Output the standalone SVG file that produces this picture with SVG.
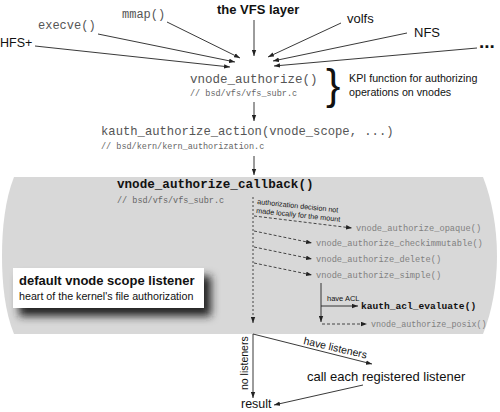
<svg xmlns="http://www.w3.org/2000/svg" width="500" height="412" viewBox="0 0 500 412">
<style>
.sans{font-family:"Liberation Sans",Arial,sans-serif;fill:#111}
.mono{font-family:"Liberation Mono","Courier New",monospace;fill:#555}
.cmt{font-family:"Liberation Mono","Courier New",monospace;font-size:8.5px;fill:#666}
.sub{font-family:"Liberation Mono","Courier New",monospace;font-size:8.7px;fill:#808080}
.ln{stroke:#222;stroke-width:0.9;fill:none}
.dot{stroke:#333;stroke-width:0.9;fill:none;stroke-dasharray:2,2}
.dash{stroke:#333;stroke-width:0.9;fill:none;stroke-dasharray:3,2}
</style>
<defs>
<marker id="ah" markerUnits="userSpaceOnUse" markerWidth="7" markerHeight="5" refX="6" refY="2.5" orient="auto">
<path d="M0,0.3 L6,2.5 L0,4.7 z" fill="#222"/>
</marker>
<filter id="blur" x="-20%" y="-40%" width="140%" height="180%">
<feGaussianBlur stdDeviation="4"/>
</filter>
</defs>
<rect width="500" height="412" fill="#fff"/>

<g id="listener-region">
<path d="M14,177 H483 C492,200 497,228 497,256 C497,284 492,312 483,334 H14 C5,312 2,284 2,256 C2,228 5,200 14,177 Z" fill="#d8d8d8"/>
</g>

<g id="vfs-layer"><text class="sans" x="217" y="14" font-size="13" font-weight="bold">the VFS layer</text></g>
<g id="mmap"><text class="mono" x="122" y="18" font-size="12">mmap()</text></g>
<g id="execve"><text class="mono" x="38" y="29" font-size="12">execve()</text></g>
<g id="hfs"><text class="sans" x="0" y="47" font-size="12.5">HFS+</text></g>
<g id="volfs"><text class="sans" x="347" y="23" font-size="13">volfs</text></g>
<g id="nfs"><text class="sans" x="414" y="37" font-size="13">NFS</text></g>
<g id="more"><text class="sans" x="479" y="48" font-size="19" font-weight="bold">...</text></g>

<g id="vnode-authorize">
<text class="mono" x="190" y="83" font-size="12.5">vnode_authorize()</text>
<text class="cmt" x="190" y="96">// bsd/vfs/vfs_subr.c</text>
</g>
<g id="kpi-note">
<text class="sans" x="326" y="99" font-size="43">}</text>
<text class="sans" x="349" y="82" font-size="10.7">KPI function for authorizing</text>
<text class="sans" x="349" y="96" font-size="10.7">operations on vnodes</text>
</g>

<g id="kauth-action">
<text class="mono" x="101" y="135" font-size="12.2">kauth_authorize_action(vnode_scope, ...)</text>
<text class="cmt" x="101" y="149">// bsd/kern/kern_authorization.c</text>
</g>

<g id="callback">
<text class="mono" x="117" y="188" font-size="12.6" font-weight="bold" style="fill:#111">vnode_authorize_callback()</text>
<text class="cmt" x="117" y="203">// bsd/vfs/vfs_subr.c</text>
</g>

<g id="decision-note">
<text class="sans" font-size="7.2" transform="rotate(6 257 204)"><tspan x="257" y="204">authorization decision not</tspan><tspan x="257" y="213">made locally for the mount</tspan></text>
</g>
<g id="opaque"><text class="sub" x="356" y="231">vnode_authorize_opaque()</text></g>
<g id="checkimmutable"><text class="sub" x="316" y="246">vnode_authorize_checkimmutable()</text></g>
<g id="delete"><text class="sub" x="316" y="262">vnode_authorize_delete()</text></g>
<g id="simple"><text class="sub" x="316" y="278">vnode_authorize_simple()</text></g>
<g id="acl">
<text class="sans" x="327" y="301" font-size="7.5">have ACL</text>
<text class="mono" x="361" y="309" font-size="9.6" font-weight="bold" style="fill:#111">kauth_acl_evaluate()</text>
</g>
<g id="posix"><text class="sub" x="371" y="327" style="font-size:8.4px">vnode_authorize_posix()</text></g>

<g id="default-listener">
<rect x="19" y="276" width="192" height="40" fill="#222" filter="url(#blur)"/>
<rect x="13" y="268" width="191" height="40" fill="#fff"/>
<text class="sans" x="19" y="285" font-size="13" font-weight="bold">default vnode scope listener</text>
<text class="sans" x="19" y="300" font-size="10.7">heart of the kernel's file authorization</text>
</g>

<g id="call-listeners"><text class="sans" x="307" y="381" font-size="13">call each registered listener</text></g>
<g id="result"><text class="sans" x="241" y="408" font-size="12.5">result</text></g>
<g id="edge-labels">
<text class="sans" font-size="10.5" transform="translate(248 390) rotate(-90)">no listeners</text>
<text class="sans" font-size="10.5" transform="translate(303 344) rotate(13)">have listeners</text>
</g>

<g id="connectors">
<line class="ln" x1="254" y1="20" x2="254" y2="56" marker-end="url(#ah)"/>
<line class="ln" x1="167" y1="22" x2="240" y2="58" marker-end="url(#ah)"/>
<line class="ln" x1="98" y1="34" x2="235" y2="62" marker-end="url(#ah)"/>
<line class="ln" x1="35" y1="46" x2="230" y2="67" marker-end="url(#ah)"/>
<line class="ln" x1="341" y1="23" x2="268" y2="57" marker-end="url(#ah)"/>
<line class="ln" x1="407" y1="33" x2="273" y2="61" marker-end="url(#ah)"/>
<line class="ln" x1="477" y1="48" x2="274" y2="66" marker-end="url(#ah)"/>
<line class="ln" x1="254" y1="102" x2="254" y2="121" marker-end="url(#ah)"/>
<line class="ln" x1="254" y1="156" x2="254" y2="175" marker-end="url(#ah)"/>
<line class="dot" x1="253" y1="197" x2="253" y2="323" marker-end="url(#ah)"/>
<line class="dash" x1="254" y1="216" x2="352" y2="228" marker-end="url(#ah)"/>
<line class="dash" x1="254" y1="231" x2="312" y2="243" marker-end="url(#ah)"/>
<line class="dash" x1="254" y1="247" x2="312" y2="259" marker-end="url(#ah)"/>
<line class="dash" x1="254" y1="263" x2="312" y2="275" marker-end="url(#ah)"/>
<line class="ln" x1="321" y1="283" x2="321" y2="322" marker-end="url(#ah)"/>
<line class="ln" x1="321" y1="306" x2="358" y2="306" marker-end="url(#ah)"/>
<line class="dash" x1="322" y1="324" x2="367" y2="324" marker-end="url(#ah)"/>
<line class="ln" x1="253" y1="334" x2="253" y2="398" marker-end="url(#ah)"/>
<line class="ln" x1="253" y1="334" x2="372" y2="364" marker-end="url(#ah)"/>
<line class="ln" x1="363" y1="385" x2="274" y2="405" marker-end="url(#ah)"/>
</g>
</svg>
